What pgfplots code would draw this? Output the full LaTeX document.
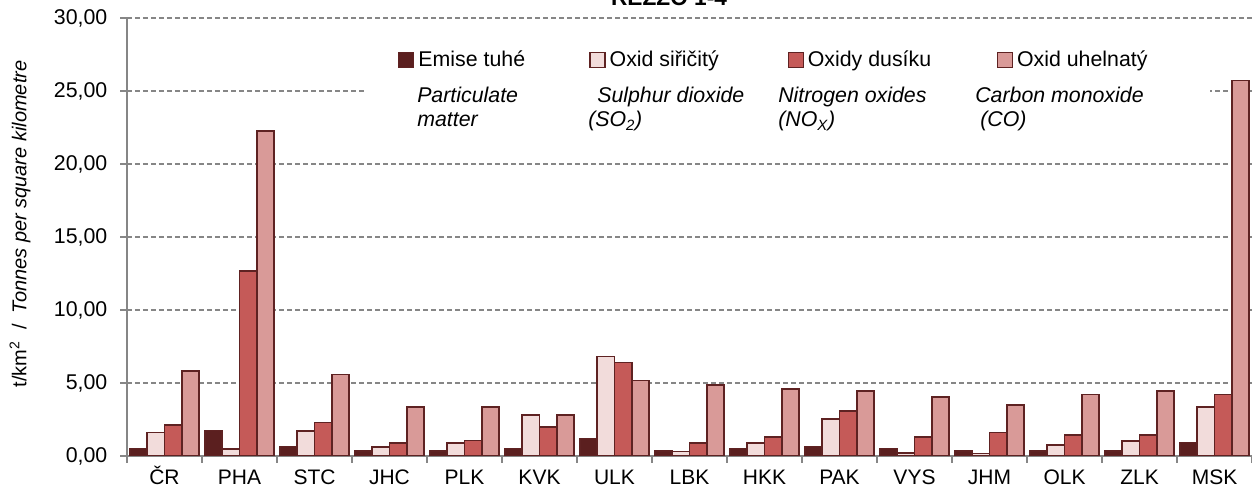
\documentclass[border=0pt]{standalone}
\usepackage{fontspec}
\setmainfont{Liberation Sans}
\usepackage{pgfplots}
\pgfplotsset{compat=1.18}

\definecolor{cTuhe}{HTML}{5B1F1F}
\definecolor{cSO}{HTML}{F2DCDB}
\definecolor{cNO}{HTML}{C55A58}
\definecolor{cCO}{HTML}{D99A98}
\definecolor{cEdge}{HTML}{5E2222}
\definecolor{cAxis}{HTML}{868686}

\newcommand{\xtkfont}{\fontsize{15.75}{18}\selectfont}
\newcommand{\ytkfont}{\fontsize{16}{18}\selectfont}
\newcommand{\lgfont}{\fontsize{16}{18}\selectfont}

\begin{document}
\begin{tikzpicture}
\begin{axis}[
    at={(0,0)}, anchor=south west,
    scale only axis,
    width=843.75pt, height=328.5pt,
    ybar,
    xmin=-0.5, xmax=14.5,
    ymin=0, ymax=30,
    axis x line=bottom, axis y line=left,
    axis line style={-, draw=cAxis, line width=1.6pt},
    every tick/.style={draw=cAxis, line width=1.4pt},
    tick align=outside,
    major tick length=5.25pt,
    xtick={-0.5,0.5,...,14.5},
    xticklabels={},
    extra x ticks={0,1,...,14},
    extra x tick labels={ČR,PHA,STC,JHC,PLK,KVK,ULK,LBK,HKK,PAK,VYS,JHM,OLK,ZLK,MSK},
    extra x tick style={major tick length=0pt, grid=none},
    ytick={0,5,...,30},
    ymajorgrids,
    grid style={draw=cAxis, line width=1.1pt, dash pattern=on 4pt off 2pt},
    /pgf/number format/assume math mode=true,
    yticklabel style={font=\ytkfont, xshift=-6pt,
        /pgf/number format/.cd, fixed, fixed zerofill, precision=2, use comma},
    xticklabel style={font=\xtkfont, inner sep=0pt, text height=13.5pt, text depth=0pt, yshift=-8pt},
    ylabel={t/km\textsuperscript{2}\ \ /\ \ \textit{Tonnes per square kilometre}},
    ylabel style={font=\fontsize{15}{17}\selectfont, at={(axis description cs:-0.095,0.53)}, anchor=center},
    every axis plot/.append style={draw=cEdge, line width=1.2pt},
    legend columns=4,
    legend style={font=\lgfont, draw=none, fill=none, inner sep=0pt,
        nodes={inner sep=0pt}, column sep=3pt,
        at={(axis description cs:0.2409,0.904)}, anchor=west},
    legend image code/.code={\draw[#1, line width=0.9pt] (0pt,-5.6pt) rectangle (11.25pt,5.6pt);},
]

% white box behind the legend and the english notes
\fill[white] (axis cs:2.673,20.96) rectangle (axis cs:13.94,29.6);

% Emise tuhe
\addplot[fill=cTuhe, bar width=0.23, bar shift=-0.345] coordinates {
    (0,0.52) (1,1.76) (2,0.64) (3,0.36) (4,0.36) (5,0.52) (6,1.20) (7,0.36)
    (8,0.50) (9,0.64) (10,0.50) (11,0.36) (12,0.36) (13,0.36) (14,0.92)
};
% Oxid siricity
\addplot[fill=cSO, bar width=0.23, bar shift=-0.115] coordinates {
    (0,1.60) (1,0.48) (2,1.72) (3,0.60) (4,0.90) (5,2.80) (6,6.82) (7,0.30)
    (8,0.90) (9,2.52) (10,0.22) (11,0.18) (12,0.74) (13,1.04) (14,3.36)
};
% Oxidy dusiku
\addplot[fill=cNO, bar width=0.23, bar shift=0.115] coordinates {
    (0,2.14) (1,12.68) (2,2.30) (3,0.90) (4,1.06) (5,2.00) (6,6.40) (7,0.90)
    (8,1.30) (9,3.10) (10,1.30) (11,1.60) (12,1.44) (13,1.44) (14,4.20)
};
% Oxid uhelnaty
\addplot[fill=cCO, bar width=0.23, bar shift=0.345] coordinates {
    (0,5.84) (1,22.25) (2,5.58) (3,3.36) (4,3.36) (5,2.80) (6,5.16) (7,4.88)
    (8,4.60) (9,4.46) (10,4.04) (11,3.50) (12,4.20) (13,4.46) (14,25.72)
};

\legend{\makebox[125.25pt][l]{Emise tuhé},
        \makebox[130.5pt][l]{Oxid siřičitý},
        \makebox[138.75pt][l]{Oxidy dusíku},
        \makebox[105pt][l]{Oxid uhelnatý}}
\end{axis}

% english notes under the legend
\begin{scope}[every node/.style={font=\lgfont\itshape, anchor=base west, inner sep=0pt}]
\node at (217.5pt,264.75pt) {Particulate};
\node at (217.5pt,246.75pt) {matter};
\node at (352.5pt,264.75pt) {Sulphur dioxide};
\node at (345.75pt,246.75pt) {(SO\textsubscript{2})};
\node at (488.25pt,264.75pt) {Nitrogen oxides};
\node at (488.25pt,246.75pt) {(NO\textsubscript{X})};
\node at (636pt,264.75pt) {Carbon monoxide};
\node at (639.75pt,246.75pt) {(CO)};
\end{scope}

% title, cut by the top edge as in the original
\node[font=\fontsize{17}{19}\selectfont\bfseries, anchor=base, inner sep=0pt] at (406.5pt,338pt) {REZZO 1-4};

\pgfresetboundingbox
\useasboundingbox (-95.25pt,-26.25pt) rectangle (843.75pt,342pt);
\end{tikzpicture}
\end{document}
